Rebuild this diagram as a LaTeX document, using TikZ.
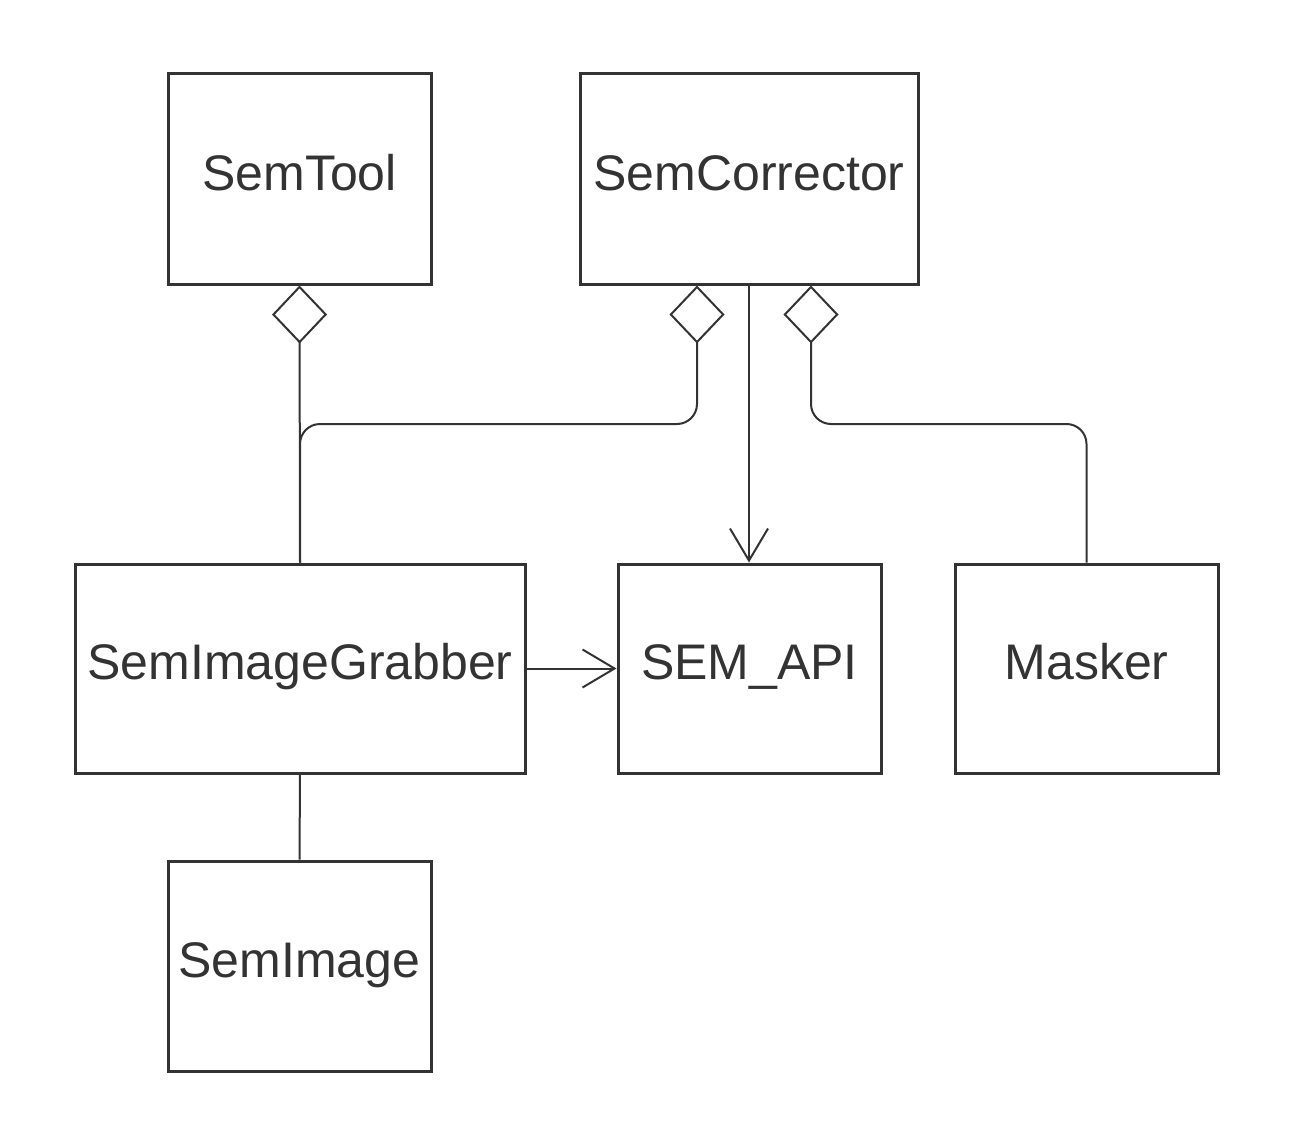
\documentclass[tikz,border=0pt]{standalone}
\usepackage{fontspec}
\setmainfont{Liberation Sans}
\usetikzlibrary{arrows.meta}
\definecolor{umlgray}{HTML}{333333}
\tikzset{
  cls/.style={draw=umlgray, line width=3pt, text=umlgray, minimum height=210pt,
    text height=36pt, text depth=14pt, inner sep=0pt,
    font=\fontsize{50}{60}\selectfont},
  link/.style={draw=umlgray, line width=2pt},
  aggr/.style={link, {Diamond[open,length=58pt,width=55pt]}-},
  uses/.style={link, -{Straight Barb[length=32pt,width=38pt]}}
}
\begin{document}
\begin{tikzpicture}[x=1pt,y=-1pt]
        \useasboundingbox (0,0) rectangle (1294,1148);
        \node[cls, minimum width=263pt] (tool) at (299.5,179) {SemTool};
        \node[cls, minimum width=338pt] (corr) at (749,179) {SemCorrector};
        \node[cls, minimum width=450pt, minimum height=209pt] (grab) at (300,668.5) {SemImageGrabber};
        \node[cls, minimum width=263pt, minimum height=209pt] (api) at (749.5,668.5) {SEM\_API};
        \node[cls, minimum width=263pt, minimum height=209pt] (mask) at (1086.5,668.5) {Masker};
        \node[cls, minimum width=263pt] (img) at (299.5,966) {SemImage};
        \coordinate (bus) at (0,424);
        % aggregations
        \draw[aggr] (tool.south) -- (grab.north);
        \draw[aggr, rounded corners=20pt] ([xshift=-52pt]corr.south) |- (grab.north |- bus) -- (grab.north);
        \draw[aggr, rounded corners=20pt] ([xshift=62pt]corr.south) |- (mask.north |- bus) -- (mask.north);
        % associations
        \draw[uses] (corr.south) -- (corr.south |- api.north);
        \draw[uses] (grab.east) -- (api.west);
        \draw[link] (grab.south) -- (img.north);
      \end{tikzpicture}
\end{document}
